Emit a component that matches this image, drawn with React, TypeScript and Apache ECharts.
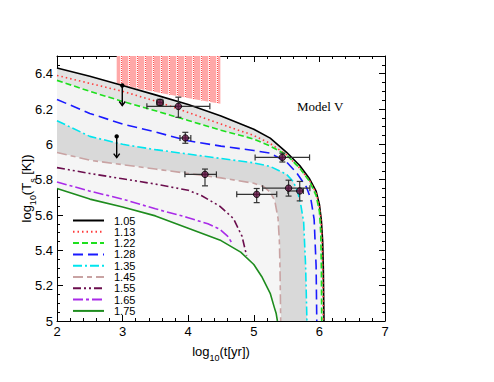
import React, { useEffect, useRef } from "react";
import * as echarts from "echarts";

// ---------- data ----------
const massLabels = ["1.05", "1.13", "1.22", "1.28", "1.35", "1.45", "1.55", "1.65", "1.75"];

const curve105 = [[2, 6.432], [2.5, 6.385], [3, 6.333], [3.5, 6.28], [4, 6.225], [4.5, 6.16], [5, 6.085], [5.25, 6.035], [5.5, 5.955], [5.7, 5.88], [5.85, 5.805], [5.95, 5.735], [6.0, 5.66], [6.03, 5.57], [6.05, 5.45], [6.06, 5.3], [6.07, 5.0]];
const curve113 = [[2, 6.39], [2.5, 6.345], [3, 6.3], [3.5, 6.245], [4, 6.18], [4.5, 6.115], [5, 6.05], [5.25, 6.005], [5.5, 5.94], [5.7, 5.865], [5.85, 5.795], [5.95, 5.725], [6.0, 5.65], [6.03, 5.55], [6.045, 5.4], [6.055, 5.2], [6.06, 5.0]];
const curve122 = [[2, 6.362], [2.5, 6.3], [3, 6.243], [3.5, 6.19], [4, 6.135], [4.5, 6.08], [5, 6.03], [5.25, 5.99], [5.5, 5.94], [5.7, 5.865], [5.85, 5.79], [5.95, 5.71], [6.0, 5.62], [6.02, 5.5], [6.03, 5.3], [6.035, 5.0]];
const curve128 = [[2, 6.254], [2.5, 6.175], [3, 6.115], [3.5, 6.07], [4, 6.02], [4.5, 5.99], [5, 5.965], [5.25, 5.95], [5.5, 5.9], [5.65, 5.84], [5.8, 5.76], [5.87, 5.69], [5.92, 5.575], [5.95, 5.31], [5.96, 5.0]];
const curve135 = [[2, 6.134], [2.5, 6.045], [3, 6.0], [3.5, 5.97], [4, 5.945], [4.5, 5.92], [5, 5.895], [5.25, 5.875], [5.5, 5.83], [5.6, 5.79], [5.67, 5.73], [5.72, 5.65], [5.76, 5.56], [5.79, 5.31], [5.81, 5.0]];
const curve145 = [[2, 5.954], [2.5, 5.91], [3, 5.885], [3.5, 5.86], [4, 5.835], [4.5, 5.81], [5.0, 5.78], [5.15, 5.76], [5.25, 5.73], [5.32, 5.68], [5.37, 5.58], [5.39, 5.45], [5.4, 5.29], [5.41, 5.0]];
const curve155 = [[2, 5.868], [2.5, 5.835], [3, 5.805], [3.5, 5.775], [4, 5.74], [4.2, 5.71], [4.48, 5.65], [4.69, 5.58], [4.82, 5.48], [4.89, 5.37]];
const curve165 = [[2, 5.787], [2.5, 5.735], [3, 5.69], [3.5, 5.635], [4, 5.585], [4.3, 5.55], [4.48, 5.52], [4.6, 5.48], [4.67, 5.44]];
const curve175 = [[2, 5.75], [2.5, 5.69], [3, 5.645], [3.5, 5.595], [4, 5.525], [4.5, 5.455], [4.8, 5.39], [5.0, 5.32], [5.12, 5.252], [5.25, 5.157], [5.31, 5.08], [5.34, 5.044], [5.36, 5.0]];

// observed sources
const observedX = [3.57, 3.85, 3.956, 4.256, 5.435, 5.044, 5.53, 5.70];
const observedY = [6.237, 6.215, 6.036, 5.83, 5.926, 5.717, 5.752, 5.736];
const observedXLow = [3.52, 3.37, 3.875, 3.95, 5.02, 4.74, 5.135, 5.52];
const observedXHigh = [3.62, 4.33, 4.04, 4.43, 5.85, 5.35, 5.855, 5.755];
const observedYLow = [6.22, 6.153, 6.006, 5.765, 5.9, 5.67, 5.707, 5.68];
const observedYHigh = [6.255, 6.267, 6.068, 5.86, 5.95, 5.75, 5.797, 5.79];

// upper limits: [logt, logT, arrow tip]
const upperLimitX = [2.995, 2.91];
const upperLimitY = [6.333, 6.045];
const upperLimitTip = [6.22, 5.925];

// excluded (hatched) region
const boxBottom = [[2.91, 6.345], [3.3, 6.31], [3.7, 6.282], [4.1, 6.255], [4.49, 6.23]];
const boxTop = 6.5;

// ---------- styles ----------
const lineColors = ["#000000", "#ff3b3b", "#1ee01e", "#1a1aff", "#00e5ee", "#c9a3a3", "#6b0d4d", "#a92be8", "#1e8c1e"];
const lineDash: any[] = ["solid", [1.5, 3], [6, 3], [10, 5], [9, 3, 2, 3], [10, 4, 5, 4], [8, 3, 2, 3, 2, 3], [10, 3, 3, 3], "solid"];
const curves = [curve105, curve113, curve122, curve128, curve135, curve145, curve155, curve165, curve175];

function makePattern() {
  const c = document.createElement("canvas");
  c.width = 8;
  c.height = 4;
  const ctx = c.getContext("2d")!;
  ctx.fillStyle = "#ffa8a8";
  ctx.fillRect(0, 0, 8, 4);
  ctx.fillStyle = "#ffe4e4";
  ctx.fillRect(0, 0, 1, 4);
  ctx.fillStyle = "#ff4a4a";
  ctx.fillRect(1, 0, 1, 1);
  ctx.fillRect(1, 2, 1, 1);
  ctx.fillStyle = "#ffffff";
  ctx.fillRect(1, 1, 1, 1);
  ctx.fillRect(1, 3, 1, 1);
  return c;
}

function band(upper: number[][], lower: number[][], fill: string) {
  return {
    type: "custom",
    silent: true,
    z: 1,
    clip: true,
    data: [[2, 5]],
    renderItem: (_p: any, api: any) => {
      const pts = upper.map((p) => api.coord(p)).concat(lower.slice().reverse().map((p) => api.coord(p)));
      return { type: "polygon", shape: { points: pts }, style: { fill, stroke: "none" } };
    },
  };
}

export default function App() {
  const ref = useRef<HTMLDivElement>(null);
  useEffect(() => {
    if (!ref.current) return;
    const chart = echarts.init(ref.current, undefined, { renderer: "svg" });
    const axisFont = { fontFamily: "Liberation Sans", fontSize: 13, color: "#000" };
    const nameRich = {
      sub: { fontFamily: "Liberation Sans", fontSize: 9, verticalAlign: "bottom", padding: [0, 0, -4, 0], color: "#000" },
    };
    const commonAxis = {
      type: "value",
      axisLine: { show: true, onZero: false, lineStyle: { color: "#000", width: 1 } },
      axisTick: { show: true, inside: true, length: 6, lineStyle: { color: "#000" } },
      splitLine: { show: false },
      minorSplitLine: { show: false },
    };
    const observed = observedX.map((x, i) => [x, observedY[i], observedXLow[i], observedXHigh[i], observedYLow[i], observedYHigh[i]]);
    const limits = upperLimitX.map((x, i) => [x, upperLimitY[i], upperLimitTip[i]]);
    const boxPoly = [[boxBottom[0][0], boxTop], [boxBottom[boxBottom.length - 1][0], boxTop]].concat(boxBottom.slice().reverse());
    const pattern = makePattern();

    const lineSeries = curves.map((c, i) => ({
      type: "line",
      name: massLabels[i],
      data: c,
      symbol: "circle",
      symbolSize: 1,
      showSymbol: false,
      z: 3,
      clip: true,
      lineStyle: { color: lineColors[i], width: 1.6, type: lineDash[i] },
      itemStyle: { color: lineColors[i] },
    }));

    chart.setOption({
      animation: false,
      backgroundColor: "#fff",
      grid: { left: 57, right: 109, top: 56, bottom: 61 },
      xAxis: [
        {
          ...commonAxis,
          min: 2, max: 7, interval: 1, position: "bottom",
          minorTick: { show: true, splitNumber: 5, length: 3, lineStyle: { color: "#000" } },
          axisLabel: { ...axisFont, margin: 4 },
          name: "log{sub|10}(t[yr])",
          nameLocation: "middle",
          nameGap: 24,
          nameTextStyle: { ...axisFont, rich: nameRich },
        },
        {
          ...commonAxis,
          min: 2, max: 7, interval: 1, position: "top",
          minorTick: { show: true, splitNumber: 5, length: 3, lineStyle: { color: "#000" } },
          axisLabel: { show: false },
        },
      ],
      yAxis: [
        {
          ...commonAxis,
          min: 5, max: 6.5, interval: 0.2, position: "left",
          minorTick: { show: true, splitNumber: 4, length: 3, lineStyle: { color: "#000" } },
          axisLabel: { ...axisFont, margin: 4, formatter: (v: number) => (v > 6.45 ? "" : String(Math.round(v * 10) / 10)) },
          name: "log{sub|10}(T{sub|s} [K])",
          nameLocation: "middle",
          nameGap: 24,
          nameMoveOverlap: false,
          nameTextStyle: { ...axisFont, rich: nameRich },
        },
        {
          ...commonAxis,
          min: 5, max: 6.5, interval: 0.2, position: "right",
          minorTick: { show: true, splitNumber: 4, length: 3, lineStyle: { color: "#000" } },
          axisLabel: { show: false },
        },
      ],
      legend: {
        data: massLabels,
        orient: "vertical",
        left: 67,
        top: 210,
        itemWidth: 31,
        itemHeight: 10,
        itemGap: 0.3,
        itemStyle: { opacity: 0 },
        textStyle: { fontFamily: "Liberation Sans", fontSize: 11, color: "#000", lineHeight: 10, padding: [0, 0, 0, 5] },
        selectedMode: false,
      },
      graphic: [
        { type: "text", left: 297, top: 100, style: { text: "Model V", font: "13px 'Liberation Serif'", fill: "#000" } },
      ],
      series: [
        band(curve105, curve122, "#e3e3e3"),
        band(curve122, curve135, "#f3f3f3"),
        band(curve135, curve145, "#d9d9d9"),
        band(curve145, curve175, "#f5f5f5"),
        {
          type: "custom",
          silent: true,
          z: 2,
          data: [[3, 6.4]],
          renderItem: (_p: any, api: any) => ({
            type: "polygon",
            shape: { points: boxPoly.map((p) => api.coord(p)) },
            style: { fill: { image: pattern, repeat: "repeat" }, stroke: "none" },
          }),
        },
        ...lineSeries,
        {
          type: "custom",
          silent: true,
          z: 5,
          data: observed,
          encode: { x: [0, 2, 3], y: [1, 4, 5] },
          renderItem: (_p: any, api: any) => {
            const x = api.value(0), y = api.value(1);
            const pL = api.coord([api.value(2), y]);
            const pR = api.coord([api.value(3), y]);
            const pB = api.coord([x, api.value(4)]);
            const pT = api.coord([x, api.value(5)]);
            const c = 3;
            const st = { stroke: "#333", lineWidth: 1.2 };
            const ln = (a: number[], b: number[]) => ({ type: "line", shape: { x1: a[0], y1: a[1], x2: b[0], y2: b[1] }, style: st });
            return {
              type: "group",
              children: [
                ln(pL, pR),
                ln([pL[0], pL[1] - c], [pL[0], pL[1] + c]),
                ln([pR[0], pR[1] - c], [pR[0], pR[1] + c]),
                ln(pB, pT),
                ln([pB[0] - c, pB[1]], [pB[0] + c, pB[1]]),
                ln([pT[0] - c, pT[1]], [pT[0] + c, pT[1]]),
              ],
            };
          },
        },
        {
          type: "custom",
          silent: true,
          z: 6,
          data: limits,
          renderItem: (_p: any, api: any) => {
            const x = api.value(0);
            const p = api.coord([x, api.value(1)]);
            const t = api.coord([x, api.value(2)]);
            const st = { stroke: "#000", lineWidth: 1.4, fill: "none" };
            return {
              type: "group",
              children: [
                { type: "line", shape: { x1: p[0], y1: p[1], x2: t[0], y2: t[1] }, style: st },
                { type: "polyline", shape: { points: [[t[0] - 3, t[1] - 4], [t[0], t[1]], [t[0] + 3, t[1] - 4]] }, style: st },
                { type: "circle", shape: { cx: p[0], cy: p[1], r: 2.2 }, style: { fill: "#000" } },
              ],
            };
          },
        },
        {
          type: "scatter",
          z: 7,
          silent: true,
          data: observed.map((d) => [d[0], d[1]]),
          symbol: "circle",
          symbolSize: 6.5,
          itemStyle: { color: "#5e1040", borderColor: "#000", borderWidth: 1 },
        },
      ],
    });
    return () => chart.dispose();
  }, []);
  return <div ref={ref} style={{ position: "fixed", left: 0, top: 0, width: 494, height: 382 }} />;
}
